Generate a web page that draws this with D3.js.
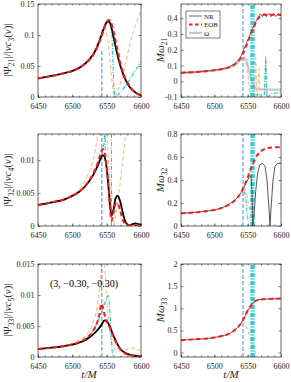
<!DOCTYPE html>
<html><head><meta charset="utf-8">
<script src="https://cdn.jsdelivr.net/npm/d3@7"></script>
<style>body{margin:0;background:#fff}svg{display:block}text{font-family:"Liberation Serif","DejaVu Serif",serif}</style>
</head><body>
<svg id="c" width="291" height="382"></svg>
<script>
// ---------- data ----------
const xTicks = [6450, 6500, 6550, 6600];
const yTicks1 = [0, 0.05, 0.1, 0.15];
const yTicks2 = [-0.1, 0, 0.1, 0.2, 0.3, 0.4];
const yTicks3 = [0, 0.005, 0.01];
const yTicks4 = [0, 0.2, 0.4, 0.6, 0.8];
const yTicks5 = [0, 0.005, 0.01, 0.015];
const yTicks6 = [0, 0.5, 1, 1.5, 2];
const tPeakBlue = 6543;
const tPeakCyan = 6557;
const cyanBand = [6555, 6556.5, 6558, 6559.5];

// panel 1 : |Psi21|
const nr21 = [[6450,0.030],[6470,0.034],[6490,0.039],[6500,0.042],[6510,0.047],[6520,0.055],[6530,0.068],[6535,0.078],[6540,0.092],[6545,0.108],[6549,0.119],[6552,0.123],[6555,0.119],[6559,0.102],[6564,0.076],[6570,0.050],[6575,0.034],[6580,0.022],[6585,0.014],[6590,0.009],[6595,0.005],[6600,0.003]];
const eob21 = [[6450,0.030],[6470,0.034],[6490,0.039],[6500,0.042],[6510,0.047],[6520,0.055],[6530,0.067],[6535,0.077],[6540,0.090],[6545,0.106],[6549,0.118],[6553,0.124],[6556,0.121],[6560,0.106],[6565,0.080],[6570,0.054],[6575,0.036],[6580,0.024],[6585,0.015],[6590,0.009],[6595,0.005],[6600,0.003]];
const orange21 = [[6450,0.030],[6490,0.039],[6510,0.047],[6520,0.056],[6530,0.071],[6536,0.086],[6541,0.102],[6545,0.112],[6548,0.110],[6551,0.095],[6554,0.068],[6557,0.035],[6560,0.006],[6562,0.000],[6566,0.010],[6572,0.030],[6578,0.058],[6585,0.090],[6592,0.115],[6600,0.140]];
const cyan21 = [[6450,0.030],[6490,0.039],[6510,0.047],[6520,0.055],[6530,0.068],[6540,0.092],[6547,0.112],[6553,0.121],[6557,0.112],[6559,0.060],[6561,0.010],[6563,0.001],[6570,0.008],[6580,0.022],[6590,0.040],[6600,0.057]];

// panel 2 : M omega21
const nrw21 = [[6450,0.054],[6470,0.058],[6490,0.065],[6500,0.070],[6510,0.077],[6520,0.088],[6530,0.110],[6536,0.135],[6540,0.160],[6543,0.190],[6547,0.230],[6551,0.270],[6555,0.310],[6559,0.350],[6563,0.385],[6566,0.410],[6569,0.428],[6572,0.410],[6575,0.430],[6578,0.410],[6582,0.430],[6585,0.410],[6589,0.430],[6592,0.410],[6596,0.430],[6600,0.415]];
const eobw21 = [[6450,0.054],[6470,0.058],[6490,0.065],[6500,0.070],[6510,0.076],[6520,0.086],[6530,0.106],[6536,0.128],[6540,0.150],[6543,0.175],[6547,0.215],[6551,0.258],[6555,0.300],[6559,0.342],[6563,0.380],[6567,0.405],[6571,0.418],[6576,0.422],[6600,0.422]];
const omega21 = [[6450,0.054],[6470,0.058],[6490,0.064],[6500,0.068],[6510,0.074],[6520,0.083],[6530,0.100],[6536,0.120],[6540,0.138],[6545,0.150],[6548,0.135],[6552,0.065],[6556,0.005],[6560,-0.035],[6565,-0.050],[6580,-0.053],[6600,-0.053]];
const orangew21 = [[6450,0.054],[6500,0.069],[6520,0.085],[6530,0.105],[6538,0.135],[6543,0.150],[6547,0.120],[6551,0.020],[6554,-0.100],[6560,-0.110],[6562,0.150],[6564,-0.110],[6567,0.080],[6569,-0.110],[6575,-0.110],[6577,0.160],[6579,-0.110],[6600,-0.110]];
const cyanw21 = [[6562,-0.085],[6570,-0.088],[6575,-0.085],[6577,0.150],[6579,-0.110],[6585,-0.080],[6592,-0.075],[6600,-0.070]];

// panel 3 : |Psi32|
const nr32 = [[6450,0.0032],[6470,0.0036],[6490,0.0041],[6500,0.0046],[6510,0.0052],[6520,0.0062],[6530,0.0077],[6537,0.0092],[6541,0.0102],[6544,0.0108],[6547,0.0105],[6550,0.0088],[6553,0.0055],[6555,0.0030],[6557,0.0016],[6560,0.0025],[6563,0.0042],[6566,0.0046],[6570,0.0036],[6574,0.0018],[6578,0.0005],[6583,0.0001],[6588,0.0003],[6592,0.0004],[6596,0.0003],[6600,0.0002]];
const eob32 = [[6450,0.0032],[6470,0.0036],[6490,0.0041],[6500,0.0046],[6510,0.0052],[6520,0.0063],[6530,0.0079],[6537,0.0096],[6541,0.0110],[6544,0.0117],[6547,0.0112],[6550,0.0090],[6553,0.0055],[6555,0.0025],[6557,0.0008],[6560,0.0020],[6563,0.0034],[6566,0.0035],[6570,0.0022],[6574,0.0008],[6578,0.0002],[6590,0.0001],[6600,0.0001]];
const orange32a = [[6450,0.0032],[6490,0.0042],[6510,0.0056],[6520,0.0072],[6530,0.0100],[6535,0.0125],[6538,0.0150]];
const orange32b = [[6550,0.0150],[6553,0.0095],[6556,0.0040],[6559,0.0002],[6564,0.0020],[6569,0.0060],[6574,0.0105],[6579,0.0150]];
const cyan32 = [[6450,0.0032],[6490,0.0041],[6510,0.0052],[6520,0.0062],[6530,0.0077],[6538,0.0095],[6543,0.0110],[6546,0.0125],[6548,0.0150]];

// panel 4 : M omega32
const nrw32 = [[6450,0.110],[6470,0.118],[6490,0.130],[6500,0.140],[6510,0.155],[6520,0.180],[6530,0.220],[6535,0.250],[6540,0.290],[6544,0.330],[6548,0.380],[6552,0.420],[6555,0.440],[6556.5,0.300],[6557.5,0.000],[6559,0.050],[6562,0.300],[6565,0.460],[6568,0.530],[6572,0.545],[6576,0.520],[6579,0.400],[6582,0.150],[6583.5,0.000],[6585,0.150],[6588,0.400],[6591,0.520],[6595,0.545],[6600,0.545]];
const eobw32 = [[6450,0.110],[6470,0.118],[6490,0.130],[6500,0.140],[6510,0.155],[6520,0.180],[6530,0.220],[6535,0.250],[6540,0.290],[6545,0.350],[6550,0.420],[6555,0.500],[6560,0.570],[6565,0.620],[6570,0.650],[6575,0.668],[6580,0.678],[6590,0.684],[6600,0.685]];
const orangew32 = [[6544,0.330],[6548,0.290],[6551,0.200],[6554,0.100]];
const cyanw32 = [[6545,0.300],[6547,0.240],[6549,0.120],[6551,0.040]];

// panel 5 : |Psi33|
const nr33 = [[6450,0.0013],[6470,0.0015],[6490,0.0018],[6500,0.0020],[6510,0.0023],[6520,0.0028],[6530,0.0036],[6537,0.0044],[6542,0.0051],[6547,0.0059],[6550,0.0058],[6555,0.0048],[6560,0.0034],[6565,0.0022],[6570,0.0013],[6575,0.0008],[6580,0.0005],[6590,0.0002],[6600,0.0001]];
const eob33 = [[6450,0.0013],[6470,0.0015],[6490,0.0018],[6510,0.0024],[6520,0.0030],[6530,0.0042],[6536,0.0055],[6540,0.0072],[6542,0.0086],[6544,0.0082],[6547,0.0068],[6550,0.0058],[6554,0.0049],[6558,0.0038],[6563,0.0025],[6570,0.0012],[6580,0.0004],[6600,0.0001]];
const orange33a = [[6450,0.0013],[6490,0.0019],[6510,0.0027],[6520,0.0035],[6530,0.0055],[6536,0.0080],[6540,0.0115],[6543,0.0150]];
const orange33b = [[6547,0.0150],[6550,0.0095],[6553,0.0055],[6556,0.0030],[6560,0.0015],[6567,0.0009],[6575,0.0011],[6585,0.0015],[6595,0.0012],[6600,0.0010]];
const cyan33 = [[6450,0.0013],[6490,0.0018],[6510,0.0024],[6520,0.0030],[6530,0.0042],[6538,0.0060],[6544,0.0077],[6549,0.0092],[6552,0.0099],[6554,0.0085],[6556,0.0045],[6558,0.0010],[6560,0.0001]];

// panel 6 : M omega33
const nrw33 = [[6450,0.28],[6470,0.30],[6490,0.32],[6500,0.34],[6510,0.37],[6520,0.41],[6530,0.50],[6535,0.57],[6540,0.66],[6543,0.74],[6547,0.85],[6550,0.95],[6554,1.04],[6558,1.12],[6562,1.17],[6570,1.20],[6580,1.21],[6600,1.22]];
const eobw33 = [[6450,0.28],[6470,0.30],[6490,0.32],[6500,0.34],[6510,0.37],[6520,0.41],[6530,0.50],[6535,0.57],[6540,0.66],[6543,0.74],[6547,0.85],[6550,0.95],[6554,1.04],[6558,1.12],[6562,1.17],[6570,1.20],[6580,1.21],[6600,1.22]];
const orangew33 = [[6543,0.74],[6547,0.62],[6551,0.45],[6555,0.28],[6559,0.12],[6562,-0.02],[6564,-0.12]];

const legendLabels = ["NR", "EOB", "Ω"];
const caseLabel = "(3, −0.30, −0.30)";

// ---------- styles ----------
const C = {
  black: "#000", red: "#ff1a1a", orange: "#f9bd8a", cyan: "#22c7d3", blue: "#3f8fd8",
  gray: "#444", light: "#c8c8c8", axis: "#262626"
};
const svg = d3.select("#c");
const cols = [[38, 141], [181, 281]];
const rows = [[4, 97], [134, 226], [264, 357]];
let clipId = 0;

function panel(col, row, yDom, yTicks, fmtTicks) {
  const x = d3.scaleLinear().domain([6450, 6600]).range(cols[col]);
  const y = d3.scaleLinear().domain(yDom).range([rows[row][1], rows[row][0]]);
  const g = svg.append("g");
  const id = "clip" + (clipId++);
  svg.append("clipPath").attr("id", id).append("rect")
    .attr("x", cols[col][0]).attr("y", rows[row][0])
    .attr("width", cols[col][1] - cols[col][0]).attr("height", rows[row][1] - rows[row][0]);
  const plot = g.append("g").attr("clip-path", `url(#${id})`);
  const ax = g.append("g");
  const xb = d3.axisBottom(x).tickValues(xTicks).tickSize(-2.5).tickPadding(6.5).tickFormat(d3.format("d"));
  ax.append("g").attr("transform", `translate(0,${rows[row][1]})`).call(xb);
  const xt = d3.axisTop(x).tickValues(d3.range(6450, 6601, 10)).tickSize(-1.5).tickFormat("");
  ax.append("g").attr("transform", `translate(0,${rows[row][0]})`).call(xt);
  const xm = d3.axisBottom(x).tickValues(d3.range(6450, 6601, 10)).tickSize(-1.5).tickFormat("");
  ax.append("g").attr("transform", `translate(0,${rows[row][1]})`).call(xm);
  const yl = d3.axisLeft(y).tickValues(yTicks).tickSize(-2.5).tickPadding(3.5).tickFormat(fmtTicks);
  ax.append("g").attr("transform", `translate(${cols[col][0]},0)`).call(yl);
  const yr = d3.axisRight(y).tickValues(yTicks).tickSize(-2.5).tickFormat("");
  ax.append("g").attr("transform", `translate(${cols[col][1]},0)`).call(yr);
  ax.selectAll(".domain").remove();
  ax.selectAll("line").attr("stroke", C.axis).attr("stroke-width", 0.6);
  ax.selectAll("text").attr("font-size", 8).attr("fill", C.axis).attr("font-family", '"Liberation Serif", serif');
  ax.append("rect").attr("x", cols[col][0]).attr("y", rows[row][0])
    .attr("width", cols[col][1] - cols[col][0]).attr("height", rows[row][1] - rows[row][0])
    .attr("fill", "none").attr("stroke", C.axis).attr("stroke-width", 0.7);
  const line = d3.line().x(d => x(d[0])).y(d => y(d[1])).curve(d3.curveMonotoneX);
  const lineL = d3.line().x(d => x(d[0])).y(d => y(d[1]));
  return {
    x, y, plot, g,
    path(data, stroke, w, dash, curve = true) {
      plot.append("path").attr("d", (curve ? line : lineL)(data)).attr("fill", "none")
        .attr("stroke", stroke).attr("stroke-width", w).attr("stroke-dasharray", dash || null)
        .attr("stroke-linejoin", "round");
    },
    vline(t, v0, v1, stroke, w, dash) {
      plot.append("line").attr("x1", x(t)).attr("x2", x(t))
        .attr("y1", y(v0 === null ? yDom[0] : v0)).attr("y2", y(v1 === null ? yDom[1] : v1))
        .attr("stroke", stroke).attr("stroke-width", w).attr("stroke-dasharray", dash || null);
    }
  };
}
const fmtGen = d => (d === 0 ? "0" : String(+d.toFixed(4)));
const dashO = "4,2.5", dashC = "4,1.5,1,1.5", dashB = "4,2", dashR = "4.5,3";

// ---- panel 1
let p = panel(0, 0, [0, 0.15], yTicks1, fmtGen);
p.path(orange21, C.orange, 1.1, dashO);
p.path(cyan21, C.cyan, 1.1, dashC);
p.vline(tPeakBlue, 0, 0.075, C.blue, 1, dashB);
p.path(nr21, C.black, 1.8);
p.path(eob21, C.red, 2, dashR);

// ---- panel 2
p = panel(1, 0, [-0.1, 0.49], yTicks2, fmtGen);
p.path(omega21, C.light, 2.2);
p.path(orangew21, C.orange, 1.1, dashO, false);
p.path(cyanw21, C.cyan, 1.1, dashC, false);
cyanBand.forEach(t => p.vline(t, null, null, C.cyan, 1.4, dashC));
p.vline(tPeakBlue, null, null, C.blue, 1, dashB);
p.path(nrw21, C.gray, 0.8, null, false);
p.path(eobw21, C.red, 2, dashR);

// legend
const lg = svg.append("g");
lg.append("rect").attr("x", 186).attr("y", 11).attr("width", 34).attr("height", 27)
  .attr("fill", "#fff").attr("stroke", C.axis).attr("stroke-width", 0.6);
const lStyles = [[C.gray, 0.8, null], [C.red, 2, "3.5,2.5"], [C.light, 2.2, null]];
legendLabels.forEach((s, i) => {
  const yy = 16 + i * 8.5;
  lg.append("line").attr("x1", 189).attr("x2", 202).attr("y1", yy).attr("y2", yy)
    .attr("stroke", lStyles[i][0]).attr("stroke-width", lStyles[i][1]).attr("stroke-dasharray", lStyles[i][2]);
  lg.append("text").attr("x", 204).attr("y", yy + 2.5).attr("font-size", 7).attr("fill", C.axis).text(s);
});

// ---- panel 3
p = panel(0, 1, [0, 0.014], yTicks3, fmtGen);
p.path(orange32a, C.orange, 1.1, dashO);
p.path(orange32b, C.orange, 1.1, dashO);
p.path(cyan32, C.cyan, 1.1, dashC);
p.vline(6548, 0.0115, null, C.cyan, 1.1, dashC);
p.vline(tPeakCyan, null, null, C.cyan, 1.1, dashC);
p.vline(tPeakBlue, null, null, C.blue, 1, dashB);
p.path(nr32, C.black, 1.8);
p.path(eob32, C.red, 2, dashR);

// ---- panel 4
p = panel(1, 1, [0, 0.8], yTicks4, d => String(d));
p.path(orangew32, C.orange, 1.1, dashO);
p.path(cyanw32, C.cyan, 1.1, dashC);
cyanBand.forEach(t => p.vline(t, null, null, C.cyan, 1.4, dashC));
p.vline(tPeakBlue, null, null, C.blue, 1, dashB);
p.path(nrw32, C.gray, 0.9, null, false);
p.path(eobw32, C.red, 2, dashR);

// ---- panel 5
p = panel(0, 2, [0, 0.015], yTicks5, fmtGen);
p.path(orange33a, C.orange, 1.1, dashO);
p.path(orange33b, C.orange, 1.1, dashO);
p.path(cyan33, C.cyan, 1.1, dashC);
p.vline(tPeakBlue, null, null, C.blue, 1, dashB);
p.path(nr33, C.black, 1.8);
p.path(eob33, C.red, 2, dashR);
svg.append("text").attr("x", 84).attr("y", 287).attr("text-anchor", "middle")
  .attr("font-size", 10).attr("fill", "#000").text(caseLabel);

// ---- panel 6
p = panel(1, 2, [-0.1, 2], yTicks6, d => String(d));
p.path(orangew33, C.orange, 1.1, dashO);
cyanBand.forEach(t => p.vline(t, null, null, C.cyan, 1.4, dashC));
p.vline(tPeakBlue, null, null, C.blue, 1, dashB);
p.path(nrw33, C.gray, 0.9);
p.path(eobw33, C.red, 2, dashR);

// ---------- axis labels ----------
function ylab(xc, yc, size, parts) {
  const t = svg.append("text").attr("transform", `translate(${xc},${yc}) rotate(-90)`)
    .attr("text-anchor", "middle").attr("font-size", size).attr("fill", C.axis);
  parts.forEach(([s, sub, it]) => {
    const ts = t.append("tspan").text(s);
    if (it) ts.attr("font-style", "italic");
    if (sub === 1) ts.attr("font-size", size * 0.68).attr("dy", 2.5);
    if (sub === -1) ts.attr("dy", -2.5);
  });
}
function ampLabel(xc, yc, lm, cn) {
  ylab(xc, yc, 11, [["|Ψ", 0, false], [lm, 1, false], ["|/|", -1, false], ["νc", 0, true], [cn, 1, false], ["(", -1, false], ["ν", 0, true], [")|", 0, false]]);
}
ampLabel(11, 50, "21", "3");
ampLabel(11, 180, "32", "4");
ampLabel(11, 310, "33", "5");
function wLabel(xc, yc, lm) {
  ylab(xc, yc, 11, [["Mω", 0, true], [lm, 1, false]]);
}
wLabel(164, 50, "21");
wLabel(164, 180, "32");
wLabel(164, 310, "33");
[[89, 378], [231, 378]].forEach(([xx, yy]) => {
  svg.append("text").attr("x", xx).attr("y", yy).attr("text-anchor", "middle")
    .attr("font-size", 11).attr("font-style", "italic").attr("fill", C.axis).text("t/M");
});
</script>
</body></html>
